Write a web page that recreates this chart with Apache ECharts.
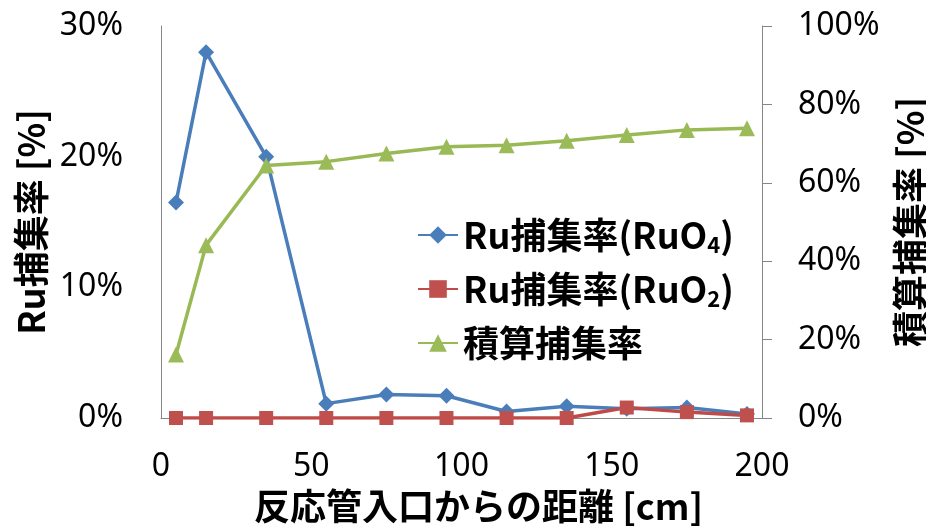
<!DOCTYPE html>
<html>
<head>
<meta charset="utf-8">
<script src="https://cdn.jsdelivr.net/npm/echarts@6/dist/echarts.min.js"></script>
<style>
  html, body { margin: 0; padding: 0; background: #fff; }
  #chart { width: 926px; height: 527px; }
</style>
</head>
<body>
<div id="chart"></div>
<script>
// Distance from the reactor tube inlet [cm]
const distance = [5, 15, 35, 55, 75, 95, 115, 135, 155, 175, 195];
// Ru capture rate per section [%]
const captureRuO4 = [16.5, 28.0, 20.0, 1.1, 1.8, 1.7, 0.5, 0.9, 0.7, 0.8, 0.3];
const captureRuO2 = [0, 0, 0, 0, 0, 0, 0, 0, 0.8, 0.45, 0.2];
// Cumulative capture rate [%]
const cumulative = [16.2, 44.1, 64.4, 65.4, 67.5, 69.2, 69.6, 70.7, 72.2, 73.5, 73.9];

const seriesNames = ['Ru捕集率(RuO4)', 'Ru捕集率(RuO2)', '積算捕集率'];
const xTicks = { min: 0, max: 200, interval: 50 };
const leftTicks = { min: 0, max: 30, interval: 10 };
const rightTicks = { min: 0, max: 100, interval: 20 };

const pairs = (xs, ys) => xs.map((x, i) => [x, ys[i]]);

const tickFont = { fontFamily: 'Noto Sans', fontSize: 32, color: '#000' };
const nameFont = { fontFamily: 'Noto Sans CJK JP', fontSize: 36, fontWeight: 'bold', color: '#000' };
const axisGray = '#868686';

const chart = echarts.init(document.getElementById('chart'), null, { renderer: 'canvas' });
chart.setOption({
  animation: false,
  backgroundColor: '#fff',
  grid: { left: 161, right: 164, top: 26, bottom: 109, containLabel: false, outerBoundsMode: 'none' },
  legend: {
    orient: 'vertical',
    left: 412,
    top: 209,
    itemWidth: 40,
    itemHeight: 22,
    itemGap: 12,
    data: seriesNames,
    formatter: (name) => name.replace(/O(\d)\)$/, 'O{sub|$1}{t|)}'),
    textStyle: {
      fontFamily: 'Noto Sans CJK JP',
      fontSize: 36,
      fontWeight: 'bold',
      color: '#000',
      lineHeight: 42,
      rich: {
        sub: { fontFamily: 'Noto Sans CJK JP', fontSize: 22, fontWeight: 'bold', color: '#000', lineHeight: 42, padding: [20, 0, 0, 0] },
        t: { fontFamily: 'Noto Sans CJK JP', fontSize: 36, fontWeight: 'bold', color: '#000', lineHeight: 42 }
      }
    }
  },
  xAxis: {
    type: 'value',
    min: xTicks.min, max: xTicks.max, interval: xTicks.interval,
    name: '反応管入口からの距離 [cm]',
    nameLocation: 'middle',
    nameGap: 69,
    nameTextStyle: Object.assign({ padding: [0, 0, 0, 34] }, nameFont),
    axisLine: { show: true, onZero: false, lineStyle: { color: axisGray, width: 1 } },
    axisTick: { show: false },
    axisLabel: Object.assign({ margin: 33 }, tickFont),
    splitLine: { show: false }
  },
  yAxis: [
    {
      type: 'value',
      position: 'left',
      min: leftTicks.min, max: leftTicks.max, interval: leftTicks.interval,
      name: 'Ru捕集率 [%]',
      nameLocation: 'middle',
      nameRotate: 90,
      nameGap: 108,
      nameTextStyle: nameFont,
      axisLine: { show: true, lineStyle: { color: axisGray, width: 1 } },
      axisTick: { show: false },
      axisLabel: Object.assign({ margin: 38, formatter: '{value}%' }, tickFont),
      splitLine: { show: false }
    },
    {
      type: 'value',
      position: 'right',
      min: rightTicks.min, max: rightTicks.max, interval: rightTicks.interval,
      name: '積算捕集率 [%]',
      nameLocation: 'middle',
      nameRotate: 90,
      nameGap: 130,
      nameTextStyle: nameFont,
      axisLine: { show: true, lineStyle: { color: axisGray, width: 1 } },
      axisTick: { show: true, inside: false, length: 10, lineStyle: { color: axisGray } },
      axisLabel: Object.assign({ margin: 36, formatter: '{value}%' }, tickFont),
      splitLine: { show: false }
    }
  ],
  series: [
    {
      name: seriesNames[0],
      type: 'line',
      yAxisIndex: 0,
      data: pairs(distance, captureRuO4),
      symbol: 'diamond',
      symbolSize: 16,
      lineStyle: { color: '#4A7EBB', width: 3.5 },
      itemStyle: { color: '#4A7EBB' }
    },
    {
      name: seriesNames[1],
      type: 'line',
      yAxisIndex: 0,
      data: pairs(distance, captureRuO2),
      symbol: 'rect',
      symbolSize: 14,
      lineStyle: { color: '#BE4B48', width: 3.5 },
      itemStyle: { color: '#C0504D' }
    },
    {
      name: seriesNames[2],
      type: 'line',
      yAxisIndex: 1,
      data: pairs(distance, cumulative),
      symbol: 'triangle',
      symbolSize: 16,
      lineStyle: { color: '#98B954', width: 3.5 },
      itemStyle: { color: '#9BBB59' }
    }
  ]
});
</script>
</body>
</html>
